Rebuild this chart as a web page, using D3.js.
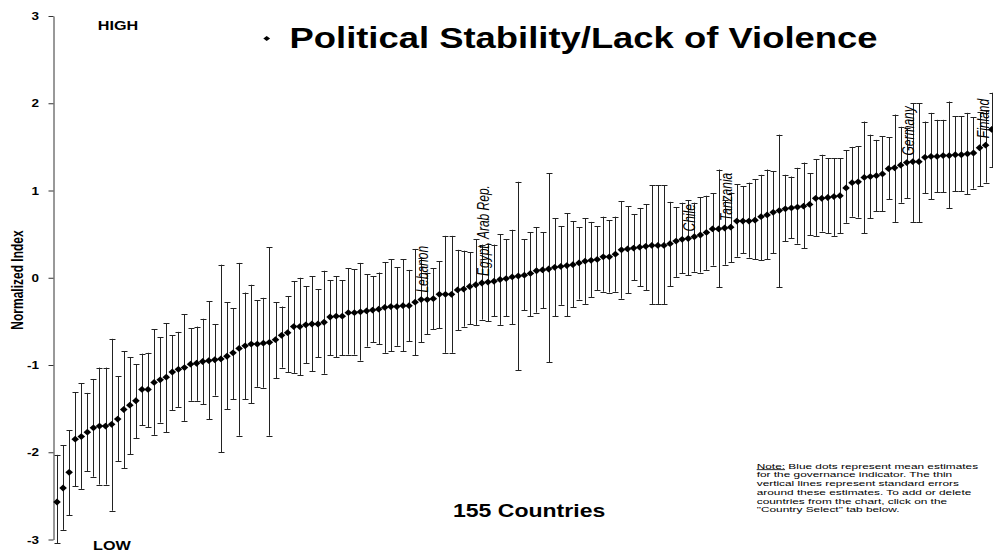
<!DOCTYPE html>
<html><head><meta charset="utf-8">
<script src="https://cdn.jsdelivr.net/npm/d3@7"></script>
<style>
html,body{margin:0;padding:0;background:#fff;}
svg{display:block;font-family:"Liberation Sans",Arial,Helvetica,sans-serif;}
</style></head><body>
<svg id="chart" width="993" height="552"></svg>
<script>
// ---------- data ----------
const titleText = "Political Stability/Lack of Violence";
const yAxisTitle = "Normalized Index";
const highLabel = "HIGH";
const lowLabel = "LOW";
const countLabel = "155 Countries";
const noteLead = "Note:";
const noteLines = [
  " Blue dots represent mean estimates",
  "for the governance indicator. The thin",
  "vertical lines represent standard errors",
  "around these estimates. To add or delete",
  "countries from the chart, click on the",
  "\"Country Select\" tab below."
];
const yTicks = [-3, -2, -1, 0, 1, 2, 3];

// country rank (1 = lowest) -- 155 countries
const ranks = d3.range(1, 156);

const estimates = [
-2.57,-2.41,-2.23,-1.85,-1.82,-1.77,-1.72,-1.70,-1.70,-1.68,
-1.62,-1.51,-1.46,-1.41,-1.28,-1.28,-1.20,-1.17,-1.14,-1.08,
-1.05,-1.03,-0.99,-0.98,-0.96,-0.95,-0.94,-0.93,-0.90,-0.86,
-0.81,-0.78,-0.76,-0.76,-0.75,-0.74,-0.71,-0.66,-0.63,-0.56,
-0.56,-0.54,-0.53,-0.53,-0.51,-0.45,-0.44,-0.44,-0.40,-0.40,
-0.39,-0.38,-0.37,-0.36,-0.34,-0.33,-0.33,-0.32,-0.32,-0.28,
-0.25,-0.25,-0.24,-0.19,-0.19,-0.19,-0.14,-0.13,-0.10,-0.08,
-0.06,-0.05,-0.04,-0.02,-0.01,0.01,0.02,0.03,0.05,0.08,
0.09,0.10,0.12,0.13,0.14,0.15,0.17,0.19,0.20,0.21,
0.24,0.24,0.27,0.32,0.33,0.34,0.35,0.36,0.37,0.37,
0.37,0.39,0.42,0.44,0.45,0.47,0.49,0.52,0.56,0.56,
0.57,0.58,0.65,0.65,0.65,0.66,0.70,0.72,0.75,0.77,
0.79,0.80,0.81,0.82,0.84,0.91,0.91,0.92,0.93,0.94,
1.03,1.09,1.10,1.15,1.16,1.17,1.19,1.25,1.26,1.29,
1.32,1.33,1.33,1.38,1.39,1.39,1.40,1.40,1.41,1.41,
1.42,1.43,1.49,1.52,1.70
];

const lower = [
-3.04,-2.89,-2.72,-2.39,-2.42,-2.22,-2.28,-2.37,-2.37,-2.67,
-2.10,-2.18,-2.02,-1.84,-1.69,-1.71,-1.80,-1.66,-1.77,-1.52,
-1.48,-1.64,-1.41,-1.41,-1.45,-1.62,-1.35,-2.00,-1.51,-1.39,
-1.81,-1.39,-1.44,-1.25,-1.26,-1.81,-1.15,-1.03,-1.08,-1.09,
-1.12,-0.98,-1.07,-0.91,-1.10,-0.89,-0.91,-0.89,-0.88,-0.88,
-0.95,-0.79,-0.74,-0.76,-0.86,-0.84,-0.78,-0.84,-0.73,-0.89,
-0.74,-0.65,-0.59,-0.58,-0.86,-0.86,-0.60,-0.56,-0.53,-0.54,
-0.48,-0.50,-0.44,-0.54,-0.44,-0.53,-1.06,-0.37,-0.44,-0.40,
-0.35,-0.97,-0.44,-0.31,-0.44,-0.34,-0.25,-0.30,-0.22,-0.14,
-0.16,-0.17,-0.16,-0.24,-0.18,-0.03,-0.10,-0.14,-0.30,-0.30,
-0.30,-0.10,0.01,0.05,0.03,0.07,0.06,0.09,0.14,-0.11,
0.15,0.18,0.24,0.28,0.23,0.21,0.20,0.21,0.28,-0.11,
0.42,0.45,0.39,0.34,0.49,0.48,0.53,0.51,0.48,0.51,
0.63,0.70,0.69,0.51,0.68,0.76,0.76,0.90,0.64,0.86,
0.91,0.64,0.64,0.97,0.90,0.98,0.98,0.80,0.99,0.99,
0.96,1.02,1.05,1.09,1.27
];

const upper = [
-2.03,-1.92,-1.75,-1.31,-1.21,-1.32,-1.16,-1.03,-1.03,-0.70,
-1.13,-0.84,-0.91,-0.99,-0.87,-0.86,-0.59,-0.68,-0.52,-0.66,
-0.62,-0.42,-0.58,-0.56,-0.47,-0.27,-0.53,0.15,-0.28,-0.35,
0.17,-0.17,-0.08,-0.26,-0.23,0.35,-0.28,-0.33,-0.21,-0.04,
0.00,-0.10,0.02,-0.13,0.08,-0.03,0.02,-0.03,0.11,0.10,
0.17,0.04,0.02,0.06,0.18,0.21,0.12,0.21,0.09,0.33,
0.23,0.06,0.11,0.19,0.48,0.48,0.32,0.31,0.29,0.44,
0.38,0.39,0.38,0.50,0.44,0.55,1.10,0.44,0.52,0.58,
0.52,1.20,0.68,0.59,0.74,0.65,0.58,0.68,0.64,0.59,
0.70,0.66,0.70,0.88,0.82,0.73,0.80,0.84,1.06,1.06,
1.06,0.87,0.81,0.86,0.89,0.86,0.92,0.94,0.97,1.24,
0.89,0.97,1.07,1.05,1.09,1.13,1.18,1.24,1.22,1.64,
1.18,1.16,1.26,1.32,1.20,1.36,1.41,1.37,1.37,1.37,
1.46,1.50,1.51,1.79,1.64,1.58,1.62,1.61,1.87,1.73,
1.72,2.00,2.00,1.79,1.89,1.81,1.81,2.02,1.85,1.85,
1.89,1.84,1.90,1.92,2.12
];

const labelNames = ["Lebanon", "Egypt, Arab Rep.", "Chile", "Tanzania", "Germany", "Finland"];
const labelRanks = [61, 71, 105, 111, 141, 154];

// ---------- drawing ----------
const FONT = '"Liberation Sans",Arial,Helvetica,sans-serif';
const SX = 1.35; // horizontal stretch of the original scan
const W = 993;
const svg = d3.select("#chart");

const x = d3.scalePoint().domain(ranks).range([57, 991.7]);
const y = d3.scaleLinear().domain([-3, 3]).range([539.5, 16]);

const rows = ranks.map((r, i) => ({ r, v: estimates[i], lo: lower[i], hi: upper[i] }));

// y axis
const axis = svg.append("g")
  .attr("transform", "translate(53.5,0)")
  .call(d3.axisLeft(y).tickValues(yTicks).tickSize(5).tickSizeOuter(0)
        .tickPadding(0).tickFormat(d => String(d)));
axis.attr("font-family", FONT).attr("font-size", null);
axis.select(".domain").attr("stroke", "#333");
axis.selectAll(".tick line").attr("stroke", "#333");
axis.selectAll(".tick text")
  .attr("x", 0).attr("dy", "0.36em")
  .attr("transform", "translate(-14.5,0) scale(" + SX + ",1)")
  .attr("font-size", 10).attr("font-weight", "bold").attr("fill", "#000");

// y axis title
svg.append("text")
  .attr("transform", "translate(23,280) scale(" + SX + ",1) rotate(-90)")
  .attr("text-anchor", "middle")
  .attr("font-size", 12).attr("font-weight", "bold")
  .text(yAxisTitle);

// error bars
const bars = svg.append("g").attr("stroke", "#222").attr("stroke-width", 1).attr("fill", "none");
const bx = d => Math.round(x(d.r)) + 0.5;
bars.selectAll("line.v").data(rows).join("line").attr("class", "v")
  .attr("x1", bx).attr("x2", bx)
  .attr("y1", d => y(d.hi)).attr("y2", d => y(d.lo));
bars.selectAll("line.t").data(rows).join("line").attr("class", "t")
  .attr("x1", d => bx(d) - 3).attr("x2", d => bx(d) + 3)
  .attr("y1", d => Math.round(y(d.hi)) + 0.5).attr("y2", d => Math.round(y(d.hi)) + 0.5);
bars.selectAll("line.b").data(rows).join("line").attr("class", "b")
  .attr("x1", d => bx(d) - 3).attr("x2", d => bx(d) + 3)
  .attr("y1", d => Math.round(y(d.lo)) + 0.5).attr("y2", d => Math.round(y(d.lo)) + 0.5);

// diamonds
const diamond = "M0,-3.4L3.8,0L0,3.4L-3.8,0Z";
svg.append("g").selectAll("path").data(rows).join("path")
  .attr("d", diamond)
  .attr("transform", d => "translate(" + x(d.r) + "," + y(d.v) + ")")
  .attr("fill", "#000");

// country labels (vertical, just above their country's dot)
svg.append("g").selectAll("text").data(labelNames).join("text")
  .attr("transform", (name, i) => {
    const r = labelRanks[i];
    const lx = Math.min(x(r) + 1.5, W - 10);
    return "translate(" + lx + "," + (y(estimates[r - 1]) - 7) + ") scale(" + SX + ",1) rotate(-90)";
  })
  .attr("dy", "0.35em")
  .attr("font-size", 12).attr("font-style", "italic")
  .text(d => d);

// title
svg.append("path")
  .attr("d", "M0,-2.6L3.4,0L0,2.6L-3.4,0Z")
  .attr("transform", "translate(266.7,38.5)")
  .attr("fill", "#000");
svg.append("text")
  .attr("x", 289.5).attr("y", 48.3)
  .attr("font-size", 30).attr("font-weight", "bold")
  .attr("textLength", 588).attr("lengthAdjust", "spacingAndGlyphs")
  .text(titleText);

// HIGH / LOW
svg.append("text")
  .attr("transform", "translate(97.7,30) scale(" + SX + ",1)")
  .attr("font-size", 12).attr("font-weight", "bold").text(highLabel);
svg.append("text")
  .attr("transform", "translate(93,550) scale(" + SX + ",1)")
  .attr("font-size", 12).attr("font-weight", "bold").text(lowLabel);

// count label
svg.append("text")
  .attr("transform", "translate(453,516.5) scale(1.28,1)")
  .attr("font-size", 18).attr("font-weight", "bold").text(countLabel);

// note
const note = svg.append("g");
const noteTexts = noteLines.map((line, i) => {
  const t = note.append("text").attr("font-size", 8).attr("fill", "#000");
  if (i === 0) {
    t.append("tspan").attr("text-decoration", "underline").text(noteLead);
    t.append("tspan").text(line);
  } else {
    t.text(line);
  }
  return t;
});
const natural = noteTexts[0].node().getComputedTextLength();
const nsx = 221.6 / natural;
noteTexts.forEach((t, i) => {
  t.attr("transform", "translate(756.7," + (468.5 + i * 8.75) + ") scale(" + nsx + ",1)");
});
</script>
</body></html>
